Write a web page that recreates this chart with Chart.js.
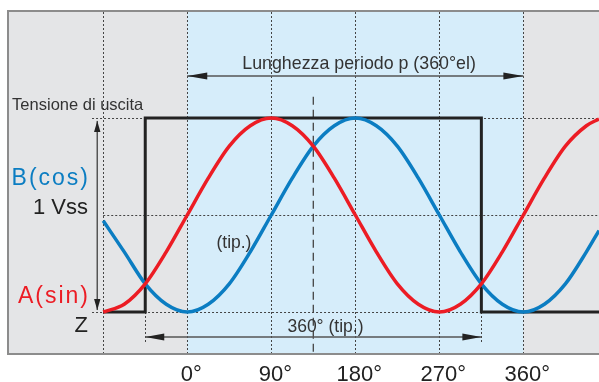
<!DOCTYPE html>
<html>
<head>
<meta charset="utf-8">
<script src="https://cdn.jsdelivr.net/npm/chart.js@4/dist/chart.umd.min.js"></script>
<style>
  body { margin: 0; background: #fff; }
  #c { display: block; }
</style>
</head>
<body>
<canvas id="c" width="599" height="382"></canvas>
<script>
// electrical angle (degrees) of the sampled points
const angles = [-90, -67.5, -45, -22.5, 0, 22.5, 45, 67.5, 90, 112.5, 135, 157.5, 180,
  202.5, 225, 247.5, 270, 292.5, 315, 337.5, 360, 382.5, 405, 427.5, 441];
// A(sin) red
const sinValues = [-1, -0.92, -0.71, -0.38, 0, 0.38, 0.71, 0.92, 1, 0.92, 0.71, 0.38, 0,
  -0.38, -0.71, -0.92, -1, -0.92, -0.71, -0.38, 0, 0.38, 0.71, 0.92, 0.99];
// B(cos) blue
const cosValues = [-0.06, -0.38, -0.71, -0.92, -1, -0.92, -0.71, -0.38, 0, 0.38, 0.71, 0.92, 1,
  0.92, 0.71, 0.38, 0, -0.38, -0.71, -0.92, -1, -0.92, -0.71, -0.38, -0.16];
// square output signal
const squareX = [-90, -45, -45, 315, 315, 441];
const squareY = [-1, -1, 1, 1, -1, -1];

const tickAngles = [0, 90, 180, 270, 360];
const tickLabels = ['0°', '90°', '180°', '270°', '360°'];
const guideAngles = [-90, 0, 90, 180, 270, 360];

const RED = '#ec1c24';
const BLUE = '#0b7dc2';
const FONT = '"Liberation Sans", Arial, sans-serif';

function pts(xs, ys) {
  return xs.map((x, i) => ({ x: x, y: ys[i] }));
}

function arrowHead(ctx, x, y, dx, dy, len, w) {
  // tip at (x,y), pointing along (dx,dy)
  ctx.beginPath();
  ctx.moveTo(x, y);
  ctx.lineTo(x - dx * len - dy * w, y - dy * len + dx * w);
  ctx.lineTo(x - dx * len + dy * w, y - dy * len - dx * w);
  ctx.closePath();
  ctx.fill();
}

const decor = {
  id: 'decor',
  beforeDatasetsDraw(chart) {
    const ctx = chart.ctx, a = chart.chartArea;
    const X = v => chart.scales.x.getPixelForValue(v);
    const Y = v => chart.scales.y.getPixelForValue(v);
    ctx.save();
    ctx.fillStyle = '#e4e5e7';
    ctx.fillRect(a.left, a.top, a.right - a.left, a.bottom - a.top);
    ctx.fillStyle = '#d6edfa';
    ctx.fillRect(X(0), a.top, X(360) - X(0), a.bottom - a.top);

    // frame
    ctx.strokeStyle = '#8c8c8c';
    ctx.lineWidth = 2;
    ctx.beginPath();
    ctx.moveTo(a.right, a.top); ctx.lineTo(a.left, a.top);
    ctx.lineTo(a.left, a.bottom); ctx.lineTo(a.right, a.bottom);
    ctx.stroke();

    // dotted guides
    ctx.strokeStyle = '#444';
    ctx.lineWidth = 1;
    ctx.setLineDash([2, 2]);
    guideAngles.forEach(g => {
      ctx.beginPath();
      ctx.moveTo(Math.round(X(g)) + 0.5, a.top + 1);
      ctx.lineTo(Math.round(X(g)) + 0.5, a.bottom - 1);
      ctx.stroke();
    });
    [-45, 315].forEach(g => {
      ctx.beginPath();
      ctx.moveTo(Math.round(X(g)) + 0.5, Y(-1));
      ctx.lineTo(Math.round(X(g)) + 0.5, Y(-1.32));
      ctx.stroke();
    });
    [[1, -102], [0, -90], [-1, -102]].forEach(h => {
      ctx.beginPath();
      ctx.moveTo(X(h[1]), Math.round(Y(h[0])) + 0.5);
      ctx.lineTo(a.right, Math.round(Y(h[0])) + 0.5);
      ctx.stroke();
    });
    // dashed centre line
    ctx.setLineDash([8, 5]);
    ctx.lineWidth = 1.3;
    ctx.beginPath();
    ctx.moveTo(X(135), Y(1.22));
    ctx.lineTo(X(135), a.bottom - 1);
    ctx.stroke();
    ctx.setLineDash([]);

    // arrows
    ctx.strokeStyle = '#555';
    ctx.fillStyle = '#222';
    ctx.lineWidth = 1.5;
    const vx = X(-96.4);
    ctx.beginPath(); ctx.moveTo(vx, Y(0.97)); ctx.lineTo(vx, Y(-0.98)); ctx.stroke();
    arrowHead(ctx, vx, Y(0.97), 0, -1, 11, 3.2);
    arrowHead(ctx, vx, Y(-0.98), 0, 1, 11, 3.2);

    const ty = Y(1.433);
    ctx.beginPath(); ctx.moveTo(X(0), ty); ctx.lineTo(X(360), ty); ctx.stroke();
    arrowHead(ctx, X(0), ty, -1, 0, 20, 3.5);
    arrowHead(ctx, X(360), ty, 1, 0, 20, 3.5);

    const by = Y(-1.258);
    ctx.beginPath(); ctx.moveTo(X(-45), by); ctx.lineTo(X(315), by); ctx.stroke();
    arrowHead(ctx, X(-45), by, -1, 0, 19, 3.5);
    arrowHead(ctx, X(315), by, 1, 0, 19, 3.5);
    ctx.restore();
  },
  afterDatasetsDraw(chart) {
    const ctx = chart.ctx;
    const X = v => chart.scales.x.getPixelForValue(v);
    const Y = v => chart.scales.y.getPixelForValue(v);
    ctx.save();
    ctx.textBaseline = 'alphabetic';

    ctx.fillStyle = '#333';
    ctx.font = '16.5px ' + FONT;
    ctx.textAlign = 'left';
    ctx.fillText('Tensione di uscita', X(-187.6), Y(1.082));

    ctx.textAlign = 'right';
    ctx.letterSpacing = '2px';
    ctx.font = '23px ' + FONT;
    ctx.fillStyle = BLUE;
    ctx.fillText('B(cos)', X(-106.3) + 2, Y(0.309));
    ctx.fillStyle = RED;
    ctx.fillText('A(sin)', X(-106.3) + 2, Y(-0.907));
    ctx.letterSpacing = '0px';
    ctx.fillStyle = '#222';
    ctx.font = '22px ' + FONT;
    ctx.fillText('1 Vss', X(-106.3), Y(0.01));
    ctx.fillText('Z', X(-106.3), Y(-1.206));

    ctx.textAlign = 'center';
    ctx.fillStyle = '#333';
    ctx.font = '17.5px ' + FONT;
    ctx.fillText('(tip.)', X(50), Y(-0.34));
    ctx.font = '17.8px ' + FONT;
    ctx.fillText('Lunghezza periodo p (360°el)', X(184), Y(1.505));
    ctx.font = '17.5px ' + FONT;
    ctx.fillText('360° (tip.)', X(148), Y(-1.206));

    ctx.fillStyle = '#222';
    ctx.font = '22px ' + FONT;
    tickAngles.forEach((t, i) => {
      ctx.fillText(tickLabels[i], X(t) + 4, chart.chartArea.bottom + 27);
    });
    ctx.restore();
  }
};

new Chart(document.getElementById('c'), {
  type: 'line',
  data: {
    datasets: [{
      label: 'A(sin)',
      data: pts(angles, sinValues),
      borderColor: RED,
      borderWidth: 3.5,
      cubicInterpolationMode: 'monotone',
      pointRadius: 0,
      fill: false,
      order: 1
    }, {
      label: 'B(cos)',
      data: pts(angles, cosValues),
      borderColor: BLUE,
      borderWidth: 3.5,
      cubicInterpolationMode: 'monotone',
      pointRadius: 0,
      fill: false,
      order: 2
    }, {
      label: 'Z',
      data: pts(squareX, squareY),
      borderColor: '#222',
      borderWidth: 3,
      tension: 0,
      pointRadius: 0,
      fill: false,
      order: 3
    }]
  },
  options: {
    responsive: false,
    animation: false,
    devicePixelRatio: 1,
    layout: { padding: { left: 8, top: 11, right: 0, bottom: 28 } },
    plugins: { legend: { display: false }, tooltip: { enabled: false } },
    scales: {
      x: { type: 'linear', min: -192, max: 441, display: false },
      y: { min: -1.433, max: 2.103, display: false }
    }
  },
  plugins: [decor]
});
</script>
</body>
</html>
